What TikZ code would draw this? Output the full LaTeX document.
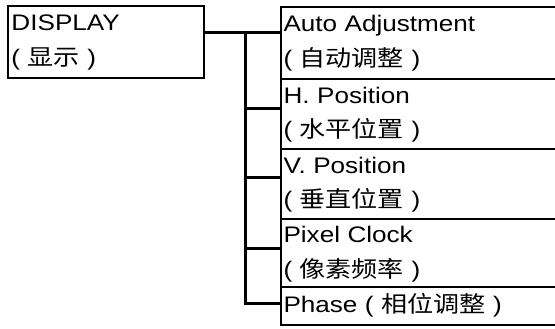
\documentclass[tikz,border=0pt]{standalone}
\usepackage{fontspec}
\setmainfont{Liberation Sans}[FakeStretch=1.16]
\newfontfamily\cjk{Noto Sans CJK SC}[FakeStretch=1.16]
\usetikzlibrary{positioning, calc}
\newcommand\zh[1]{{\cjk #1}}
\newcommand\vstrut{\rule[-10pt]{0pt}{33pt}}

\begin{document}
\begin{tikzpicture}[x=1pt, y=-1pt,
      every node/.style={font=\fontsize{22.5}{35}\selectfont},
      menu/.style={draw, line width=2pt, anchor=north west, align=left,
        inner xsep=3.5pt, inner ysep=0pt, outer sep=0pt},
      item/.style={menu, inner xsep=2.5pt, text width=272pt},
      link/.style={line width=3pt}]

    \useasboundingbox (0,0) rectangle (555,329);

    % main menu entry
    \node[menu, text width=189pt, minimum height=72pt] (display) at (8,6)
      {\vstrut DISPLAY\\\vstrut( \zh{显示} )};

    % sub menu entries
    \node[item, minimum height=72pt] (auto) at (281,7)
      {\vstrut Auto Adjustment\\\vstrut( \zh{自动调整} )};
    \node[item, minimum height=70pt, below=0pt of auto] (hpos)
      {\vstrut H. Position\\\vstrut( \zh{水平位置} )};
    \node[item, minimum height=70pt, below=0pt of hpos] (vpos)
      {\vstrut V. Position\\\vstrut( \zh{垂直位置} )};
    \node[item, minimum height=68pt, below=0pt of vpos] (clock)
      {\vstrut Pixel Clock\\\vstrut( \zh{像素频率} )};
    \node[item, minimum height=38pt, below=0pt of clock] (phase)
      {\vstrut Phase ( \zh{相位调整} )};

    % tree connectors
    \coordinate (jauto) at ($(auto.north west)+(0,26)$);
    \draw[link] (display.east |- jauto) -- (jauto);
    \foreach \n/\d in {hpos/30, vpos/28, clock/29}
      \draw[link] ($(\n.north west)+(0,\d)$) -- ++(-36,0);
    \draw[link] ($(jauto)+(-36,0)$) |- ($(phase.north west)+(0,16)$);
  \end{tikzpicture}
\end{document}
